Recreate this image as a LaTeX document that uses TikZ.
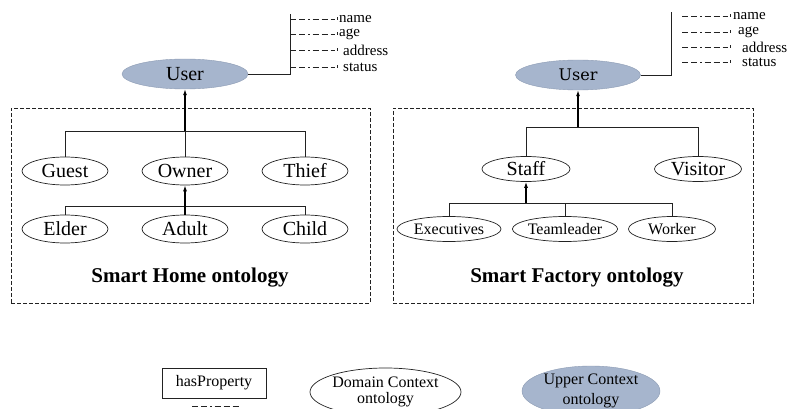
\documentclass[tikz,border=0pt]{standalone}
\usepackage{fontspec}
\setmainfont{Liberation Serif}
\newfontfamily\userfont{DejaVu Serif}
\usepackage{tikz}
\usetikzlibrary{
arrows.meta,
positioning,
shapes.geometric,
calc
}
\definecolor{CtxFill}{HTML}{A6B5CD}
\definecolor{CtxLine}{HTML}{8C9BB3}
\definecolor{CtxInk}{HTML}{222222}
\tikzset{
ctxnode/.style={draw=CtxInk, ellipse, inner sep=0pt, line width=0.7pt,
  minimum width=86pt, minimum height=28pt, font=\fontsize{20}{22}\selectfont},
ctxsmall/.style={ctxnode, minimum width=104pt, minimum height=25pt,
  font=\fontsize{16}{18}\selectfont},
upperctx/.style={ellipse, fill=CtxFill, draw=CtxLine, line width=0.4pt, inner sep=0pt,
  minimum width=126pt, minimum height=30pt, font=\fontsize{20}{22}\selectfont},
proptext/.style={anchor=west, inner sep=0pt, font=\fontsize{15}{16}\selectfont},
proplink/.style={draw=CtxInk, line width=0.8pt,
  dash pattern=on 6pt off 3pt on 6pt off 3pt on 1.5pt off 3pt on 6pt off 3pt on 6pt off 3pt},
treelink/.style={draw=CtxInk, line width=0.8pt},
isaarrow/.style={-{Latex[length=6pt,width=4pt]}, draw=black, line width=1.1pt},
ontobox/.style={draw=CtxInk, dash pattern=on 4pt off 2pt, line width=0.7pt},
ontotitle/.style={font=\bfseries\fontsize{21}{24}\selectfont, inner sep=0pt},
legendtext/.style={align=center, font=\fontsize{16}{18}\selectfont}
}

\begin{document}
\begin{tikzpicture}[x=1pt, y=-1pt]
\useasboundingbox (0,0) rectangle (790,409);

% smart home side
\node[upperctx] (user1) at (185,74) {User};
\coordinate (hub1) at (290,14);
\draw[treelink] (user1.east) -| (hub1);
\node[proptext] (name1) at (339,19) {name};
\node[proptext] (age1) at (339,34) {age};
\node[proptext] (addr1) at (343,50) {address};
\node[proptext] (stat1) at (343,67) {status};
\foreach \p/\g in {name1/4,age1/4,addr1/8,stat1/8}{
  \draw[proplink] (hub1 |- \p.west) -- ($(\p.west)+(-\g,0)$);
  \draw[draw=CtxInk, line width=0.6pt] ($(\p.west)+(-\g+2,-1.5)$) -- ++(0,3);
}

\node[ontobox, minimum width=359pt, minimum height=195pt] (homebox) at (190.5,205.5) {};
\node[ctxnode] (guest) at (65,171) {Guest};
\node[ctxnode] (owner) at (185,171) {Owner};
\node[ctxnode] (thief) at (305,171) {Thief};
\node[ctxnode] (elder) at (65,229) {Elder};
\node[ctxnode] (adult) at (185,229) {Adult};
\node[ctxnode] (child) at (305,229) {Child};
\node[ontotitle] (hometitle) at (190,278) {Smart Home ontology};

\coordinate (j1) at (185,131);
\coordinate (j2) at (185,206);
\draw[treelink] (guest.north) -- (guest.north |- j1) -- (thief.north |- j1) -- (thief.north);
\draw[treelink] (owner.north) -- (j1);
\draw[isaarrow] (j1) -- (user1.south);
\draw[treelink] (elder.north) -- (elder.north |- j2) -- (child.north |- j2) -- (child.north);
\draw[isaarrow] (adult.north) -- (owner.south);

% smart factory side
\node[upperctx, minimum width=125pt, font=\userfont\fontsize{16}{18}\selectfont] (user2) at (578,75) {User};
\coordinate (hub2) at (671,12);
\coordinate (dash2) at (682,12);
\draw[treelink] (user2.east) -| (hub2);
\node[proptext] (name2) at (733,16) {name};
\node[proptext] (age2) at (738,32) {age};
\node[proptext] (addr2) at (742,47) {address};
\node[proptext] (stat2) at (742,62) {status};
\foreach \p/\g in {name2/5,age2/10,addr2/14,stat2/14}{
  \draw[proplink] (dash2 |- \p.west) -- ($(\p.west)+(-\g,0)$);
  \draw[draw=CtxInk, line width=0.6pt] ($(\p.west)+(-\g+2,-1.5)$) -- ++(0,3);
}

\node[ontobox, minimum width=360pt, minimum height=195pt] (factorybox) at (573,205.5) {};
\node[ctxnode, minimum width=88pt, minimum height=25pt] (staff) at (526,169) {Staff};
\node[ctxnode, minimum width=87pt, minimum height=25pt] (visitor) at (698,169) {Visitor};
\node[ctxsmall] (exec) at (449,229) {Executives};
\node[ctxsmall] (team) at (565,229) {Teamleader};
\node[ctxsmall, minimum width=87pt] (worker) at (672,229) {Worker};
\node[ontotitle] (factorytitle) at (577,278) {Smart Factory ontology};

\coordinate (j3) at (578,127);
\coordinate (j4) at (526,203);
\draw[treelink] (staff.north) -- (staff.north |- j3) -- (visitor.north |- j3) -- (visitor.north);
\draw[isaarrow] (j3) -- (user2.south);
\draw[treelink] (exec.north) -- (exec.north |- j4) -- (worker.north |- j4) -- (worker.north);
\draw[treelink] (team.north) -- (team.north |- j4);
\draw[isaarrow] (j4) -- (staff.south);

% legend
\node[draw=CtxInk, line width=0.7pt, minimum width=104pt, minimum height=30pt,
  inner sep=0pt, legendtext] (hasprop) at (214,383) {hasProperty};
\coordinate (propsample) at (192,406);
\draw[proplink] (propsample) -- ++(48,0);
\node[ctxnode, minimum width=151pt, minimum height=48pt, legendtext] (domainlg) at (385.5,392)
  {Domain Context\\[-2pt]ontology};
\node[upperctx, minimum width=138pt, minimum height=50pt, legendtext] (upperlg) at (591,391)
  {Upper Context\\[2pt]ontology};
\end{tikzpicture}
\end{document}
